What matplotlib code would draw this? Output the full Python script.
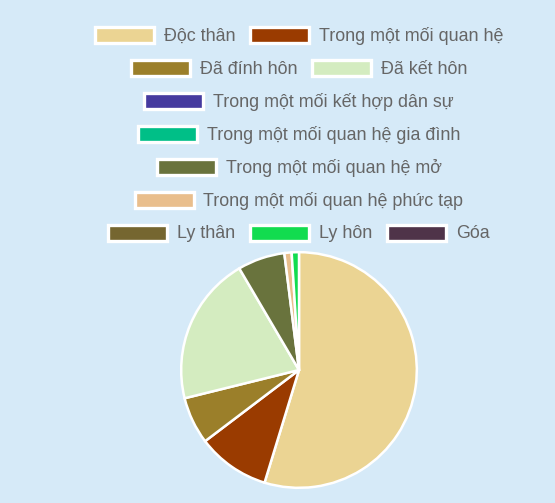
import matplotlib.pyplot as plt
from matplotlib.patches import Rectangle

# du lieu
labels = ["Độc thân", "Trong một mối quan hệ", "Đã đính hôn", "Đã kết hôn",
          "Trong một mối kết hợp dân sự", "Trong một mối quan hệ gia đình",
          "Trong một mối quan hệ mở", "Trong một mối quan hệ phức tạp",
          "Ly thân", "Ly hôn", "Góa"]
values = [55, 10, 6.5, 20.5, 0, 0, 6.5, 1, 0, 1, 0]
colors = ["#ebd493", "#9a3b00", "#9b7f2a", "#d4ecc0", "#453a9f", "#00bf87",
          "#69733d", "#e9be8c", "#756630", "#12dc4f", "#4f3349"]
legend_rows = [[0, 1], [2, 3], [4], [5], [6], [7], [8, 9, 10]]

W, H = 555, 503
bg = "#d6eaf8"
fig = plt.figure(figsize=(W / 100, H / 100), dpi=100, facecolor=bg)

# pie
cx, cy, r = 299, 370, 119
ax = fig.add_axes([(cx - r) / W, 1 - (cy + r) / H, 2 * r / W, 2 * r / H])
ax.set_facecolor(bg)
vals = [v for v in values if v > 0]
cols = [c for v, c in zip(values, colors) if v > 0]
ax.pie(vals, colors=cols, startangle=90, counterclock=False, radius=1,
       wedgeprops=dict(edgecolor="white", linewidth=1.8))
ax.set_xlim(-1.01, 1.01)
ax.set_ylim(-1.01, 1.01)
ax.set_aspect("equal")
ax.axis("off")

# legend ve tay, kieu Chart.js
renderer = fig.canvas.get_renderer()
box_w, box_h, gap, sep = 59, 16, 10, 15
center_x = 299
row_y = 35
for row in legend_rows:
    texts = []
    widths = []
    for i in row:
        t = fig.text(0, 0, labels[i], fontsize=12.9, family="Liberation Sans",
                     color="#666666", ha="left", va="center")
        texts.append(t)
        widths.append(t.get_window_extent(renderer).width)
    total = sum(box_w + gap + w for w in widths) + sep * (len(row) - 1)
    x = center_x - total / 2
    for i, t, w in zip(row, texts, widths):
        fig.patches.append(Rectangle((x / W, 1 - (row_y + box_h / 2) / H),
                                     box_w / W, box_h / H, transform=fig.transFigure,
                                     facecolor=colors[i], edgecolor="white",
                                     linewidth=2.4, figure=fig))
        t.set_position(((x + box_w + gap) / W, 1 - (row_y + 1) / H))
        x += box_w + gap + w + sep
    row_y += 33

fig.savefig("out.png", dpi=100, facecolor=bg)
